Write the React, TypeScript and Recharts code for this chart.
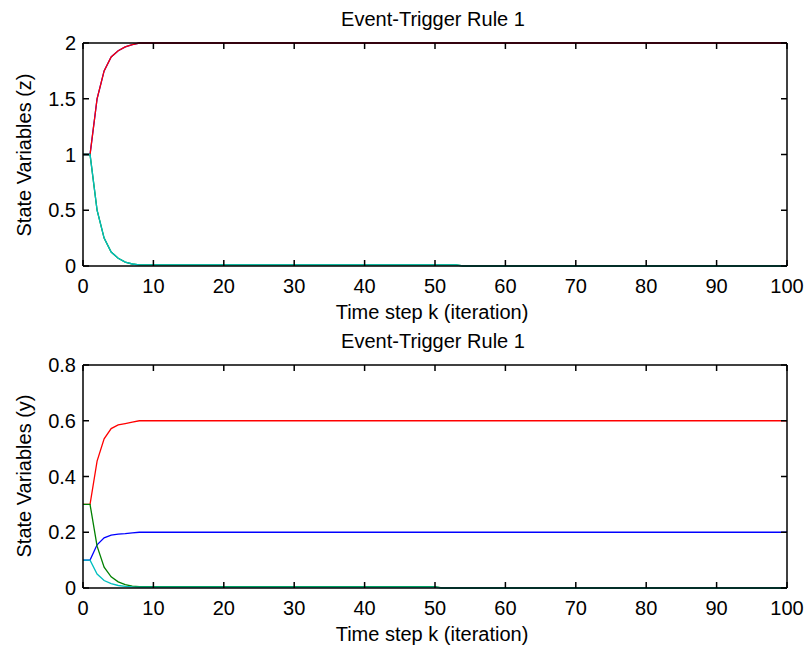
import { LineChart, Line, XAxis, YAxis } from 'recharts';

// time steps where the trajectories change (straight segments in between)
const kTop = [0, 1, 2, 3, 4, 5, 6, 7, 8, 53, 54, 100];
const zRed = [1, 1, 1.5, 1.75, 1.875, 1.93, 1.965, 1.985, 2, 2, 2, 2];
const zBlue = [1, 1, 1.5, 1.75, 1.875, 1.93, 1.965, 1.985, 2, 2, 2, 2];
const zGreen = [1, 1, 0.5, 0.25, 0.125, 0.07, 0.035, 0.018, 0.01, 0.01, 0, 0];
const zCyan = [1, 1, 0.5, 0.25, 0.125, 0.07, 0.035, 0.018, 0.01, 0.01, 0, 0];

const kBottom = [0, 1, 2, 3, 4, 5, 6, 7, 8, 50, 51, 100];
const yRed = [0.3, 0.3, 0.455, 0.535, 0.572, 0.585, 0.59, 0.595, 0.6, 0.6, 0.6, 0.6];
const yBlue = [0.1, 0.1, 0.155, 0.18, 0.19, 0.193, 0.195, 0.198, 0.2, 0.2, 0.2, 0.2];
const yGreen = [0.3, 0.3, 0.15, 0.075, 0.04, 0.022, 0.012, 0.007, 0.005, 0.005, 0, 0];
const yCyan = [0.1, 0.1, 0.05, 0.027, 0.016, 0.009, 0.006, 0.004, 0.003, 0.003, 0, 0];

const xTicks = [0, 10, 20, 30, 40, 50, 60, 70, 80, 90, 100];
const zTicks = [0, 0.5, 1, 1.5, 2];
const yTicks = [0, 0.2, 0.4, 0.6, 0.8];

const TITLE = 'Event-Trigger Rule 1';
const X_LABEL = 'Time step k (iteration)';

const FONT = '"Liberation Sans", Arial, Helvetica, sans-serif';
const PLOT_W = 704;
const PLOT_H = 223;
const TICK_LEN = 6;
const AXIS_W = 1.5;

const topData = kTop.map((k, i) => ({ k, red: zRed[i], blue: zBlue[i], green: zGreen[i], cyan: zCyan[i] }));
const bottomData = kBottom.map((k, i) => ({ k, red: yRed[i], blue: yBlue[i], green: yGreen[i], cyan: yCyan[i] }));

// inward ticks on bottom and top edges, label below; first tick also draws the horizontal box edges
function XTick(props: any) {
  const { x, y, payload, index } = props;
  return (
    <g>
      {index === 0 && (
        <>
          <line x1={x} y1={y} x2={x + PLOT_W} y2={y} stroke="#000" strokeWidth={AXIS_W} />
          <line x1={x} y1={y - PLOT_H} x2={x + PLOT_W} y2={y - PLOT_H} stroke="#000" strokeWidth={AXIS_W} />
        </>
      )}
      <line x1={x} y1={y} x2={x} y2={y - TICK_LEN} stroke="#000" strokeWidth={AXIS_W} />
      <line x1={x} y1={y - PLOT_H} x2={x} y2={y - PLOT_H + TICK_LEN} stroke="#000" strokeWidth={AXIS_W} />
      <text x={x} y={y + 20} textAnchor="middle" dominantBaseline="central" fontFamily={FONT} fontSize={20} fill="#000">
        {payload.value}
      </text>
    </g>
  );
}

// inward ticks on left and right edges, label to the left; first tick also draws the vertical box edges
function YTick(props: any) {
  const { x, y, payload, index } = props;
  return (
    <g>
      {index === 0 && (
        <>
          <line x1={x} y1={y} x2={x} y2={y - PLOT_H} stroke="#000" strokeWidth={AXIS_W} />
          <line x1={x + PLOT_W} y1={y} x2={x + PLOT_W} y2={y - PLOT_H} stroke="#000" strokeWidth={AXIS_W} />
        </>
      )}
      <line x1={x} y1={y} x2={x + TICK_LEN} y2={y} stroke="#000" strokeWidth={AXIS_W} />
      <line x1={x + PLOT_W} y1={y} x2={x + PLOT_W - TICK_LEN} y2={y} stroke="#000" strokeWidth={AXIS_W} />
      <text x={x - 7} y={y} textAnchor="end" dominantBaseline="central" fontFamily={FONT} fontSize={20} fill="#000">
        {payload.value}
      </text>
    </g>
  );
}

function Panel({ data, domain, ticks, height, top, bottom }: any) {
  return (
    <LineChart width={806} height={height} data={data} margin={{ top, right: 19, left: 0, bottom: 0 }}>
      <XAxis
        dataKey="k"
        type="number"
        domain={[0, 100]}
        ticks={xTicks}
        interval={0}
        height={bottom}
        tickSize={0}
        tickMargin={0}
        tickLine={false}
        tick={<XTick />}
        axisLine={false}
      />
      <YAxis
        type="number"
        domain={domain}
        ticks={ticks}
        interval={0}
        width={83}
        tickSize={0}
        tickMargin={0}
        tickLine={false}
        tick={<YTick />}
        axisLine={false}
      />
      {/* traces are drawn above the axes box */}
      <Line dataKey="blue" type="linear" stroke="#0000ff" strokeWidth={1.3} dot={false} isAnimationActive={false} zIndex={700} />
      <Line dataKey="red" type="linear" stroke="#ff0000" strokeWidth={1.3} dot={false} isAnimationActive={false} zIndex={701} />
      <Line dataKey="green" type="linear" stroke="#008000" strokeWidth={1.3} dot={false} isAnimationActive={false} zIndex={702} />
      <Line dataKey="cyan" type="linear" stroke="#00bfbf" strokeWidth={1.3} dot={false} isAnimationActive={false} zIndex={703} />
    </LineChart>
  );
}

const textStyle: any = {
  position: 'absolute',
  fontFamily: FONT,
  fontSize: 20,
  lineHeight: 1,
  color: '#000',
  whiteSpace: 'nowrap',
  transform: 'translate(-50%, -50%)',
};

export default function App() {
  return (
    <div style={{ position: 'absolute', left: 0, top: 0, width: 806, height: 651, background: '#fff', overflow: 'hidden' }}>
      <div style={{ position: 'absolute', left: 0, top: 0 }}>
        <Panel data={topData} domain={[0, 2]} ticks={zTicks} height={325} top={43} bottom={59} />
      </div>
      <div style={{ position: 'absolute', left: 0, top: 325 }}>
        <Panel data={bottomData} domain={[0, 0.8]} ticks={yTicks} height={326} top={40} bottom={63} />
      </div>

      <div style={{ ...textStyle, left: 433, top: 19 }}>{TITLE}</div>
      <div style={{ ...textStyle, left: 432, top: 312 }}>{X_LABEL}</div>
      <div style={{ ...textStyle, left: 24, top: 155, transform: 'translate(-50%, -50%) rotate(-90deg)' }}>State Variables (z)</div>

      <div style={{ ...textStyle, left: 433, top: 341 }}>{TITLE}</div>
      <div style={{ ...textStyle, left: 432, top: 634 }}>{X_LABEL}</div>
      <div style={{ ...textStyle, left: 24, top: 476, transform: 'translate(-50%, -50%) rotate(-90deg)' }}>State Variables (y)</div>
    </div>
  );
}
